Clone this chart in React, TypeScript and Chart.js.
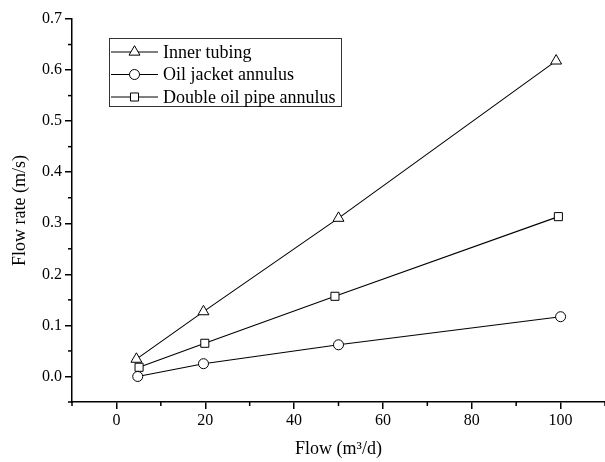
import React, { useEffect, useRef } from "react";
import { Chart, registerables } from "chart.js";

Chart.register(...registerables);

const seriesNames = ["Inner tubing", "Oil jacket annulus", "Double oil pipe annulus"];
const innerX = [4.5, 19.6, 50, 99];
const innerY = [0.034, 0.127, 0.31, 0.618];
const jacketX = [4.8, 19.6, 50, 100];
const jacketY = [0.0, 0.025, 0.062, 0.117];
const doubleX = [5.1, 19.9, 49.2, 99.5];
const doubleY = [0.018, 0.065, 0.157, 0.313];
const markerStyles = ["triangle", "circle", "rect"];
const markerRadii = [6.3, 5, 5.7];

const xMin = -10;
const xMax = 110;
const yMin = -0.05;
const yMax = 0.7;

const FONT = "'Liberation Serif', 'Times New Roman', serif";

function pts(xs: number[], ys: number[]) {
  return xs.map((x, i) => ({ x, y: ys[i] }));
}

function drawMarker(ctx: CanvasRenderingContext2D, style: string, x: number, y: number, r: number) {
  ctx.beginPath();
  if (style === "circle") {
    ctx.arc(x, y, r, 0, Math.PI * 2);
  } else if (style === "rect") {
    const s = r * Math.SQRT1_2;
    ctx.rect(x - s, y - s, 2 * s, 2 * s);
  } else {
    const h = r * 1.5;
    const w = r * Math.sin(Math.PI / 3);
    ctx.moveTo(x, y - r);
    ctx.lineTo(x + w, y - r + h);
    ctx.lineTo(x - w, y - r + h);
    ctx.closePath();
  }
  ctx.fillStyle = "#fff";
  ctx.fill();
  ctx.strokeStyle = "#000";
  ctx.lineWidth = 1;
  ctx.stroke();
}

const isMajorX = (v: number) => Math.abs(Math.round(v) % 20) === 0;
const isMajorY = (v: number) => Math.abs(Math.round(v * 100) % 10) === 0;

const minorTicksPlugin = {
  id: "minorTicks",
  afterDraw(chart: any) {
    const ctx = chart.ctx as CanvasRenderingContext2D;
    const xs = chart.scales.x;
    const ys = chart.scales.y;
    const area = chart.chartArea;
    ctx.save();
    ctx.strokeStyle = "#000";
    ctx.lineWidth = 1.5;
    xs.ticks.forEach((t: any) => {
      if (!isMajorX(t.value)) {
        const px = xs.getPixelForValue(t.value);
        ctx.beginPath();
        ctx.moveTo(px, area.bottom);
        ctx.lineTo(px, area.bottom + 4);
        ctx.stroke();
      }
    });
    ys.ticks.forEach((t: any) => {
      if (!isMajorY(t.value)) {
        const py = ys.getPixelForValue(t.value);
        ctx.beginPath();
        ctx.moveTo(area.left, py);
        ctx.lineTo(area.left - 4, py);
        ctx.stroke();
      }
    });
    ctx.restore();
  },
};

const legendPlugin = {
  id: "boxLegend",
  afterDraw(chart: any) {
    const ctx = chart.ctx as CanvasRenderingContext2D;
    ctx.save();
    const left = 109.5;
    const top = 38.5;
    const width = 232;
    const height = 68;
    ctx.strokeStyle = "#333";
    ctx.lineWidth = 1;
    ctx.strokeRect(left, top, width, height);
    const rows = [52, 74.5, 97];
    chart.data.datasets.forEach((ds: any, i: number) => {
      const y = rows[i];
      ctx.strokeStyle = "#000";
      ctx.lineWidth = 1;
      ctx.beginPath();
      ctx.moveTo(111, y);
      ctx.lineTo(158, y);
      ctx.stroke();
      drawMarker(ctx, markerStyles[i], 134.5, y, markerRadii[i]);
      ctx.fillStyle = "#000";
      ctx.font = `18px ${FONT}`;
      ctx.textBaseline = "middle";
      ctx.textAlign = "left";
      ctx.fillText(ds.label, 163, y + 1);
    });
    ctx.restore();
  },
};

export default function App() {
  const canvasRef = useRef<HTMLCanvasElement | null>(null);

  useEffect(() => {
    document.body.style.margin = "0";
    const canvas = canvasRef.current;
    if (!canvas) return;
    const xsets = [innerX, jacketX, doubleX];
    const ysets = [innerY, jacketY, doubleY];
    const chart = new Chart(canvas, {
      type: "scatter",
      data: {
        datasets: seriesNames.map((name, i) => ({
          label: name,
          data: pts(xsets[i], ysets[i]),
          showLine: true,
          borderColor: "#000",
          borderWidth: 1.1,
          backgroundColor: "#fff",
          pointStyle: markerStyles[i] as any,
          pointRadius: markerRadii[i],
          pointBorderWidth: 1,
          pointBorderColor: "#000",
          pointBackgroundColor: "#fff",
        })),
      },
      options: {
        responsive: false,
        animation: false,
        layout: { autoPadding: false, padding: { top: 19, right: 0, left: 0, bottom: 0 } },
        plugins: {
          legend: { display: false },
          tooltip: { enabled: false },
        },
        scales: {
          x: {
            type: "linear",
            min: xMin,
            max: xMax,
            afterFit: (s: any) => {
              s.height = 60;
              s.paddingRight = 0;
              s.paddingLeft = 0;
            },
            border: { display: true, color: "#000", width: 1.5 },
            grid: {
              drawOnChartArea: false,
              drawTicks: true,
              tickLength: 7,
              lineWidth: 1.5,
              color: (c: any) => (c.tick && isMajorX(c.tick.value) ? "#000" : "rgba(0,0,0,0)"),
            },
            ticks: {
              stepSize: 10,
              autoSkip: false,
              maxRotation: 0,
              padding: 2,
              color: "#000",
              font: { family: FONT, size: 16 },
              callback: (v: any) => (isMajorX(Number(v)) && Number(v) >= 0 && Number(v) <= 100 ? String(v) : ""),
            },
            title: {
              display: true,
              text: "Flow (m³/d)",
              color: "#000",
              font: { family: FONT, size: 18 },
              padding: { top: 0, bottom: 2 },
            },
          },
          y: {
            type: "linear",
            min: yMin,
            max: yMax,
            afterFit: (s: any) => {
              s.width = 72;
            },
            border: { display: true, color: "#000", width: 1.5 },
            grid: {
              drawOnChartArea: false,
              drawTicks: true,
              tickLength: 7,
              lineWidth: 1.5,
              color: (c: any) => (c.tick && isMajorY(c.tick.value) ? "#000" : "rgba(0,0,0,0)"),
            },
            ticks: {
              stepSize: 0.05,
              autoSkip: false,
              padding: 3,
              color: "#000",
              font: { family: FONT, size: 16 },
              callback: (v: any) => {
                const n = Number(v);
                return isMajorY(n) && n >= -0.001 ? n.toFixed(1) : "";
              },
            },
            title: {
              display: true,
              text: "Flow rate (m/s)",
              color: "#000",
              font: { family: FONT, size: 18 },
              padding: { top: 9, bottom: 0 },
            },
          },
        },
      },
      plugins: [minorTicksPlugin, legendPlugin],
    });
    return () => chart.destroy();
  }, []);

  return (
    <div style={{ width: 605, height: 462 }}>
      <canvas ref={canvasRef} width={605} height={462} style={{ width: 605, height: 462, display: "block" }} />
    </div>
  );
}
